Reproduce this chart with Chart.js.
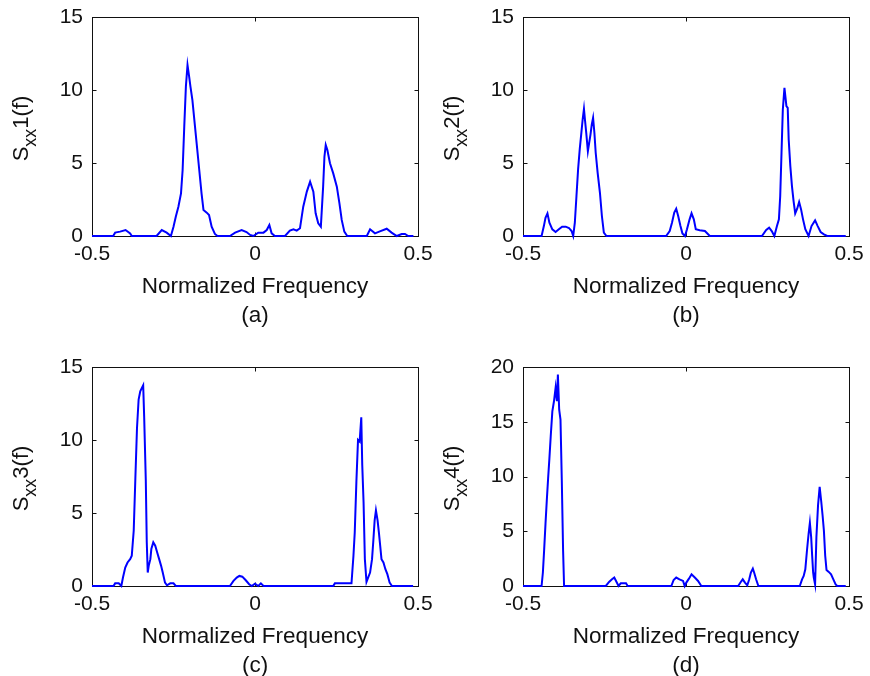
<!DOCTYPE html>
<html>
<head>
<meta charset="utf-8">
<script src="https://cdn.jsdelivr.net/npm/chart.js@4.4.1/dist/chart.umd.min.js"></script>
<style>
  html, body { margin: 0; padding: 0; background: #fff; overflow: hidden; }
  #wrap { position: relative; width: 870px; height: 676px; }
  canvas { position: absolute; }
</style>
</head>
<body>
<div id="wrap">
  <canvas id="pa" width="435" height="336" style="left:0;top:0"></canvas>
  <canvas id="pb" width="435" height="336" style="left:431px;top:0"></canvas>
  <canvas id="pc" width="435" height="336" style="left:0;top:350px"></canvas>
  <canvas id="pd" width="435" height="336" style="left:431px;top:350px"></canvas>
</div>
<script>
// axis ticks and labels
const freqTicks = [-0.5, 0, 0.5];
const sxxTicks15 = [0, 5, 10, 15];
const sxxTicks20 = [0, 5, 10, 15, 20];
const xTitle = 'Normalized Frequency';
const panelNames = ['(a)', '(b)', '(c)', '(d)'];
const seriesNames = ['1(f)', '2(f)', '3(f)', '4(f)'];

// (a) Sxx1
const freqA = [-0.5, -0.435, -0.429, -0.414, -0.397, -0.383, -0.378, -0.302, -0.286, -0.271, -0.258, -0.25, -0.243, -0.235, -0.227, -0.222, -0.217, -0.212, -0.207, -0.202, -0.198, -0.192, -0.186, -0.179, -0.171, -0.164, -0.158, -0.148, -0.141, -0.133, -0.123, -0.115, -0.077, -0.061, -0.041, -0.026, -0.015, -0.005, 0.01, 0.026, 0.036, 0.044, 0.051, 0.061, 0.092, 0.107, 0.118, 0.128, 0.138, 0.148, 0.159, 0.169, 0.179, 0.186, 0.194, 0.202, 0.209, 0.213, 0.217, 0.222, 0.23, 0.24, 0.251, 0.259, 0.266, 0.274, 0.283, 0.343, 0.353, 0.368, 0.383, 0.404, 0.419, 0.435, 0.45, 0.46, 0.47, 0.486];
const sxxA = [0, 0, 0.23, 0.3, 0.41, 0.18, 0, 0, 0.41, 0.23, 0, 0.64, 1.32, 2.01, 2.92, 4.52, 7.49, 10.23, 11.71, 10.91, 10.23, 9.31, 7.94, 6.35, 4.52, 2.92, 1.78, 1.6, 1.44, 0.64, 0.14, 0, 0, 0.23, 0.41, 0.27, 0.07, 0, 0.23, 0.23, 0.41, 0.75, 0.18, 0, 0, 0.37, 0.46, 0.37, 0.53, 2.01, 3.04, 3.72, 3.04, 1.55, 0.87, 0.64, 3.38, 5.43, 6.23, 5.89, 4.98, 4.29, 3.38, 2.24, 1.1, 0.3, 0, 0, 0.46, 0.18, 0.32, 0.5, 0.23, 0, 0.14, 0.14, 0, 0];

// (b) Sxx2
const freqB = [-0.5, -0.443, -0.436, -0.431, -0.425, -0.419, -0.41, -0.4, -0.39, -0.38, -0.369, -0.359, -0.351, -0.346, -0.341, -0.336, -0.331, -0.326, -0.321, -0.317, -0.313, -0.31, -0.306, -0.301, -0.297, -0.293, -0.289, -0.285, -0.281, -0.277, -0.271, -0.264, -0.258, -0.252, -0.244, -0.061, -0.05, -0.043, -0.036, -0.03, -0.024, -0.017, -0.011, -0.003, 0.003, 0.011, 0.017, 0.024, 0.03, 0.042, 0.058, 0.073, 0.233, 0.246, 0.255, 0.263, 0.271, 0.279, 0.285, 0.289, 0.293, 0.297, 0.302, 0.308, 0.312, 0.315, 0.32, 0.325, 0.33, 0.335, 0.341, 0.347, 0.353, 0.359, 0.366, 0.376, 0.385, 0.396, 0.404, 0.413, 0.423, 0.433, 0.49];
const sxxB = [0, 0, 0.68, 1.25, 1.55, 0.91, 0.46, 0.27, 0.46, 0.64, 0.64, 0.55, 0.34, 0, 0.91, 2.74, 4.56, 5.93, 7.07, 7.98, 8.71, 7.98, 7.07, 5.81, 6.38, 6.95, 7.64, 8.09, 7.07, 5.7, 4.33, 2.96, 1.37, 0.23, 0, 0, 0.34, 0.91, 1.6, 1.87, 1.37, 0.68, 0.18, 0, 0.46, 1.14, 1.55, 1.14, 0.46, 0.39, 0.34, 0, 0, 0.41, 0.57, 0.34, 0, 0.68, 1.14, 2.74, 5.7, 8.66, 10.15, 8.89, 8.78, 6.61, 4.79, 3.42, 2.39, 1.55, 1.87, 2.33, 1.82, 1.14, 0.46, 0, 0.68, 1.07, 0.68, 0.27, 0.11, 0, 0];

// (c) Sxx3
const freqC = [-0.5, -0.434, -0.429, -0.418, -0.41, -0.405, -0.398, -0.391, -0.383, -0.378, -0.372, -0.367, -0.362, -0.357, -0.352, -0.347, -0.343, -0.34, -0.335, -0.332, -0.329, -0.326, -0.321, -0.318, -0.312, -0.306, -0.3, -0.294, -0.288, -0.283, -0.276, -0.27, -0.26, -0.25, -0.243, -0.077, -0.066, -0.056, -0.048, -0.039, -0.029, -0.018, -0.01, 0, 0.01, 0.018, 0.026, 0.24, 0.245, 0.296, 0.302, 0.306, 0.311, 0.316, 0.321, 0.326, 0.329, 0.333, 0.337, 0.342, 0.347, 0.353, 0.359, 0.363, 0.367, 0.371, 0.376, 0.38, 0.384, 0.388, 0.394, 0.4, 0.406, 0.413, 0.42, 0.485];
const sxxC = [0, 0, 0.18, 0.18, 0, 0.58, 1.27, 1.61, 1.84, 2.07, 3.8, 7.36, 10.81, 12.77, 13.34, 13.57, 13.75, 11.62, 7.25, 2.99, 0.92, 1.38, 1.84, 2.53, 2.99, 2.76, 2.3, 1.84, 1.38, 0.92, 0.23, 0.05, 0.18, 0.18, 0, 0, 0.35, 0.58, 0.69, 0.64, 0.41, 0.12, 0, 0.16, 0, 0.18, 0, 0, 0.18, 0.18, 2.07, 3.68, 7.13, 10.01, 9.89, 11.55, 8.28, 5.75, 1.84, 0.28, 0.58, 0.92, 1.84, 3.11, 4.49, 5.18, 4.49, 3.68, 2.76, 1.84, 1.61, 1.15, 0.81, 0.23, 0, 0];

// (d) Sxx4
const freqD = [-0.5, -0.443, -0.439, -0.435, -0.431, -0.427, -0.423, -0.419, -0.415, -0.41, -0.405, -0.4, -0.396, -0.393, -0.389, -0.385, -0.381, -0.377, -0.374, -0.246, -0.236, -0.227, -0.22, -0.213, -0.207, -0.2, -0.184, -0.179, -0.045, -0.038, -0.03, -0.02, -0.009, -0.004, 0.001, 0.009, 0.017, 0.027, 0.037, 0.047, 0.16, 0.168, 0.174, 0.181, 0.188, 0.194, 0.199, 0.205, 0.209, 0.215, 0.222, 0.349, 0.356, 0.361, 0.366, 0.371, 0.376, 0.38, 0.384, 0.387, 0.39, 0.392, 0.396, 0.4, 0.405, 0.41, 0.415, 0.419, 0.423, 0.427, 0.431, 0.438, 0.445, 0.452, 0.459, 0.464, 0.49];
const sxxD = [0, 0, 1.23, 3.37, 5.67, 7.82, 9.81, 11.65, 13.65, 15.95, 16.87, 18.1, 16.87, 19.32, 16.1, 15.2, 9.66, 3.22, 0, 0, 0.37, 0.61, 0.77, 0.37, 0, 0.25, 0.25, 0, 0, 0.55, 0.77, 0.61, 0.46, 0, 0.31, 0.67, 1.07, 0.77, 0.46, 0, 0, 0.37, 0.61, 0.31, 0.06, 0.61, 1.23, 1.59, 1.23, 0.61, 0, 0, 0.61, 0.92, 1.53, 3.22, 4.75, 5.77, 4.45, 2.76, 1.23, 0.77, 0.15, 4.45, 7.36, 9.05, 7.67, 6.44, 5.06, 2.76, 1.47, 1.29, 1.07, 0.61, 0.15, 0, 0];

const FONT = '"Liberation Sans", Arial, sans-serif';
const INK = '#111';

// box round the axes with inward ticks, like matlab
const frame = {
  id: 'frame',
  beforeDatasetsDraw(chart) {
    const { ctx, chartArea: a, scales: { x, y } } = chart;
    const L = Math.round(a.left) + 0.5, R = Math.round(a.right) + 0.5;
    const T = Math.round(a.top) + 0.5, B = Math.round(a.bottom) + 0.5;
    ctx.save();
    ctx.strokeStyle = INK;
    ctx.lineWidth = 1;
    ctx.strokeRect(L, T, R - L, B - T);
    ctx.beginPath();
    x.ticks.forEach(t => {
      const px = Math.round(x.getPixelForValue(t.value)) + 0.5;
      ctx.moveTo(px, B); ctx.lineTo(px, B - 4);
      ctx.moveTo(px, T); ctx.lineTo(px, T + 4);
    });
    y.ticks.forEach(t => {
      const py = Math.round(y.getPixelForValue(t.value)) + 0.5;
      ctx.moveTo(L, py); ctx.lineTo(L + 4, py);
      ctx.moveTo(R, py); ctx.lineTo(R - 4, py);
    });
    ctx.stroke();
    ctx.restore();
  }
};

// y title with the xx subscript
const yTitle = {
  id: 'yTitle',
  afterDraw(chart, args, opts) {
    const { ctx, chartArea: a } = chart;
    const main = '22px ' + FONT, sub = '18px ' + FONT;
    ctx.save();
    ctx.fillStyle = INK;
    ctx.font = main;
    const wS = ctx.measureText('S').width;
    const wT = ctx.measureText(opts.tail).width;
    ctx.font = sub;
    const wX = ctx.measureText('xx').width;
    ctx.translate(a.left - 64, (a.top + a.bottom) / 2 + 2);
    ctx.rotate(-Math.PI / 2);
    ctx.textAlign = 'left';
    ctx.textBaseline = 'alphabetic';
    let px = -(wS + wX + wT) / 2;
    ctx.font = main; ctx.fillText('S', px, 0); px += wS;
    ctx.font = sub; ctx.fillText('xx', px, 8); px += wX;
    ctx.font = main; ctx.fillText(opts.tail, px, 0);
    ctx.restore();
  }
};

function makeChart(id, freq, sxx, yTicks, panel, tail) {
  new Chart(document.getElementById(id), {
    type: 'line',
    data: {
      datasets: [{
        data: freq.map((f, i) => ({ x: f, y: sxx[i] })),
        borderColor: '#0000ff',
        borderWidth: 2,
        pointRadius: 0,
        tension: 0,
        fill: false,
        clip: false
      }]
    },
    options: {
      responsive: false,
      animation: false,
      devicePixelRatio: 1,
      layout: { padding: { top: 17, right: 17, bottom: 5.5, left: 0 } },
      plugins: { legend: { display: false }, tooltip: { enabled: false }, yTitle: { tail: tail } },
      scales: {
        x: {
          type: 'linear',
          min: freqTicks[0],
          max: freqTicks[freqTicks.length - 1],
          afterBuildTicks: s => { s.ticks = freqTicks.map(v => ({ value: v })); },
          afterFit: s => { s.height = 94.5; s.paddingLeft = 0; s.paddingRight = 0; },
          grid: { display: false, drawTicks: false },
          border: { display: false },
          ticks: { color: INK, font: { family: FONT, size: 21 }, padding: 6, maxRotation: 0, autoSkip: false, callback: v => String(v) },
          title: { display: true, text: [xTitle, panel], color: INK, font: { family: FONT, size: 22.5, lineHeight: 1.29 }, padding: 0 }
        },
        y: {
          min: yTicks[0],
          max: yTicks[yTicks.length - 1],
          afterBuildTicks: s => { s.ticks = yTicks.map(v => ({ value: v })); },
          afterFit: s => { s.width = 92; s.paddingTop = 0; s.paddingBottom = 0; },
          grid: { display: false, drawTicks: false },
          border: { display: false },
          ticks: { color: INK, font: { family: FONT, size: 21 }, padding: 9, autoSkip: false, callback: v => String(v) }
        }
      }
    },
    plugins: [frame, yTitle]
  });
}

makeChart('pa', freqA, sxxA, sxxTicks15, panelNames[0], seriesNames[0]);
makeChart('pb', freqB, sxxB, sxxTicks15, panelNames[1], seriesNames[1]);
makeChart('pc', freqC, sxxC, sxxTicks15, panelNames[2], seriesNames[2]);
makeChart('pd', freqD, sxxD, sxxTicks20, panelNames[3], seriesNames[3]);
</script>
</body>
</html>
